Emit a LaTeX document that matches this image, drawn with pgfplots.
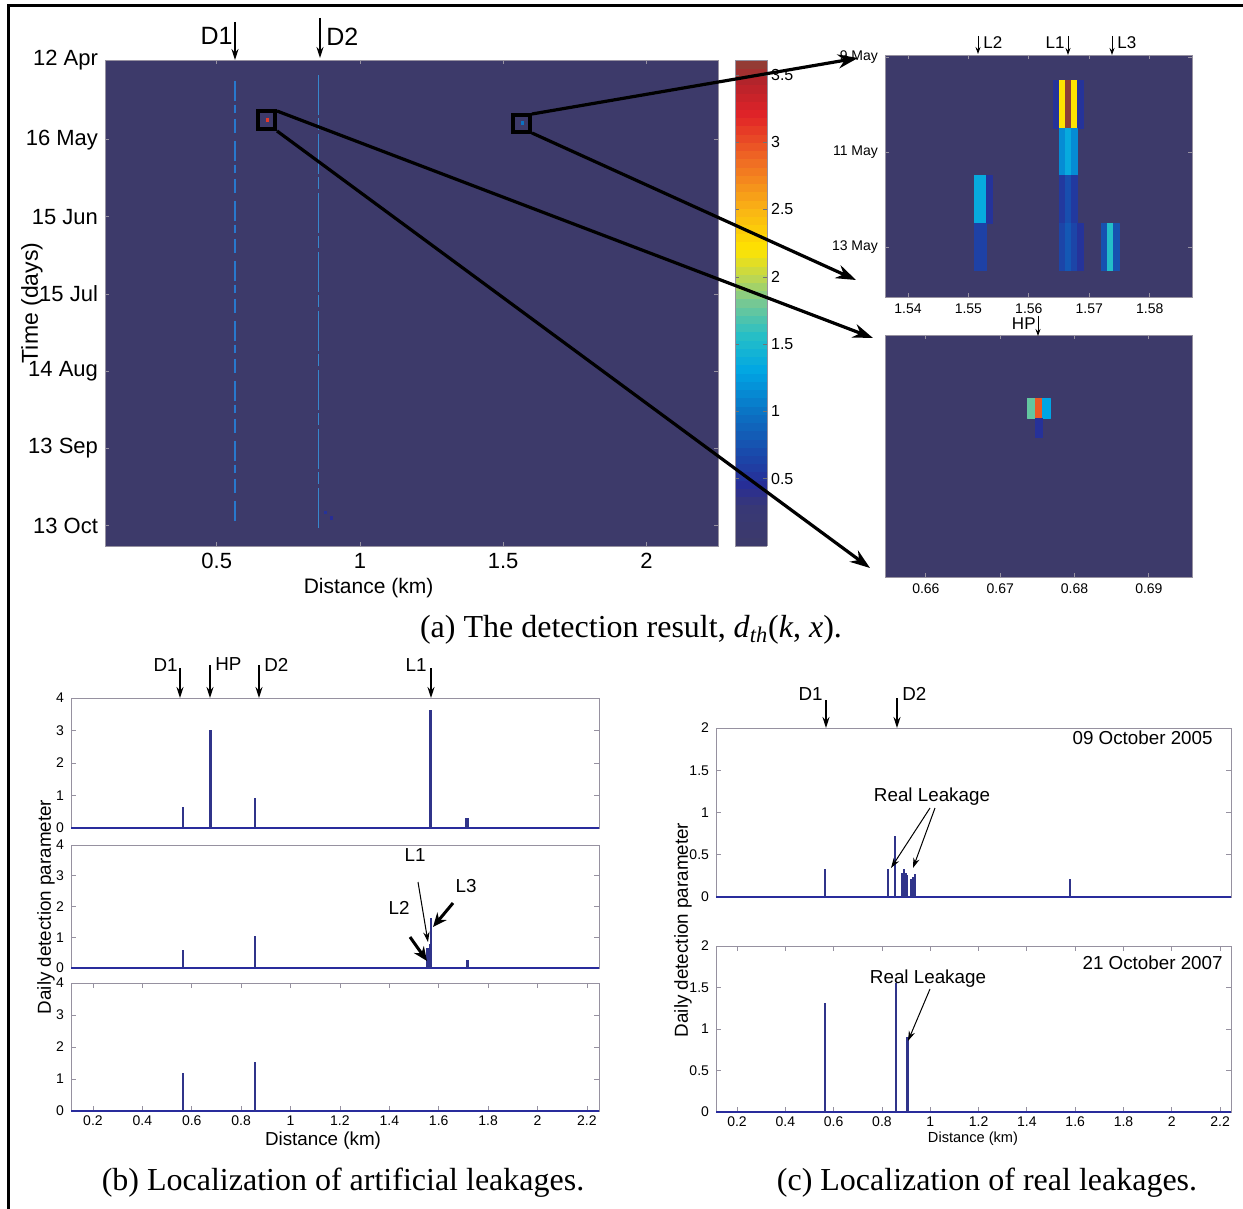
\documentclass[border=0pt]{standalone}
\usepackage{fontspec}
\setmainfont{Liberation Serif}
\setsansfont{Liberation Sans}
\usepackage{pgfplots}
\pgfplotsset{compat=1.18}
\usepgfplotslibrary{patchplots}
\usetikzlibrary{arrows.meta}

\definecolor{bgc}{RGB}{61,58,106}
\definecolor{spk}{RGB}{48,52,138}
\definecolor{axc}{RGB}{150,145,160}
\definecolor{strA}{RGB}{40,120,205}
\definecolor{strB}{RGB}{55,135,205}

\pgfplotsset{
 colormap={det}{rgb255(0pt)=(61,58,106); rgb255(30pt)=(56,56,118); rgb255(45pt)=(40,45,150); rgb255(70pt)=(25,75,172); rgb255(100pt)=(10,115,196); rgb255(130pt)=(0,165,228); rgb255(155pt)=(35,190,200); rgb255(180pt)=(115,200,150); rgb255(200pt)=(190,215,80); rgb255(220pt)=(255,228,0); rgb255(250pt)=(250,180,20); rgb255(285pt)=(240,110,35); rgb255(320pt)=(225,35,40); rgb255(345pt)=(180,35,42); rgb255(361pt)=(140,65,55)},
 /pgf/number format/assume math mode=true,
 every axis/.append style={font=\sffamily},
 heat/.style={scale only axis, anchor=north west, axis background/.style={fill=bgc},
   axis line style={draw=axc, line width=0.4pt}, tick align=inside, major tick length=2pt,
   tick style={draw=axc, line width=0.4pt}, colormap name=det, point meta min=0, point meta max=3.61},
 spikeax/.style={scale only axis, anchor=north west, axis line style={draw=axc, line width=0.5pt},
   tick align=inside, major tick length=2.5pt, tick style={draw=axc, line width=0.4pt},
   ticklabel style={font=\sffamily\fontsize{7}{8}\selectfont}},
 spk/.style={ycomb, draw=spk, line width=1.2pt},
 base/.style={draw=spk!85!blue, line width=0.9pt},
}

\begin{document}
\begin{tikzpicture}
\useasboundingbox (0,0) rectangle (621.5pt,-604.5pt);

% ---------------- (a) main heat map ----------------
\begin{axis}[heat,
 at={(52.5pt,-30pt)}, width=306.5pt, height=243pt,
 xmin=0.11, xmax=2.25, ymin=0, ymax=189, y dir=reverse,
 xtick={0.5,1,1.5,2}, ytick={0,31,61,91,121,151,181},
 yticklabels={12 Apr,16 May,15 Jun,15 Jul,14 Aug,13 Sep,13 Oct},
 ticklabel style={font=\sffamily\fontsize{11}{12}\selectfont},
 xlabel={Distance (km)}, ylabel={Time (days)},
 xlabel style={font=\sffamily\fontsize{10.5}{12}\selectfont, at={(axis description cs:0.43,-0.0864)}, anchor=center},
 ylabel style={font=\sffamily\fontsize{11.5}{12}\selectfont, at={(axis description cs:-0.119,0.5)}, anchor=center},
 colorbar sampled,
 colorbar style={at={([xshift=7pt]parent axis.north east)}, anchor=north west, width=16pt, samples=60,
   ytick={0.5,1,1.5,2,2.5,3,3.5}, yticklabel pos=right, ytick pos=both, tick align=inside, major tick length=2pt,
   ticklabel style={font=\sffamily\fontsize{8}{9}\selectfont}, yticklabel style={xshift=-1.5pt},
   axis line style={draw=axc}, tick style={draw=black!55}},
]
\addplot[draw=strA, line width=0.9pt, dash pattern=on 10pt off 2pt on 4pt off 3pt on 7pt off 4pt] coordinates {(0.565,8) (0.565,180)};
\addplot[draw=strB, line width=0.8pt, dash pattern=on 20pt off 1.5pt on 6pt off 2pt] coordinates {(0.855,6) (0.855,183)};
\addplot[scatter, only marks, mark=square*, mark size=0.6pt, point meta=explicit,
  scatter/use mapped color={draw=mapped color, fill=mapped color}]
  coordinates {(0.676,23.3) [3.1] (1.567,24.5) [1.0] (0.88,176) [0.5] (0.9,178) [0.45]};
\draw[black, line width=2pt] (axis cs:0.6437,19.8) rectangle (axis cs:0.703,26.8);
\draw[black, line width=2pt] (axis cs:1.533,21.4) rectangle (axis cs:1.592,27.95);
\end{axis}

% ---------------- inset 1 (L1, L2, L3) ----------------
\begin{axis}[heat,
 at={(442.5pt,-27.5pt)}, width=153.5pt, height=121pt,
 xmin=1.5362, xmax=1.587, ymin=-0.04, ymax=5.05, y dir=reverse,
 xtick={1.54,1.55,1.56,1.57,1.58}, ytick={0,2,4}, yticklabels={9 May,11 May,13 May},
 ticklabel style={font=\sffamily\fontsize{7}{8}\selectfont},
]
\addplot[patch, patch type=rectangle, shader=flat, point meta=explicit] coordinates {
(1.564,0.5)[0.5] (1.565,0.5)[0.5] (1.565,1.5)[0.5] (1.564,1.5)[0.5]
(1.565,0.5)[2.2] (1.566,0.5)[2.2] (1.566,1.5)[2.2] (1.565,1.5)[2.2]
(1.566,0.5)[3.6] (1.567,0.5)[3.6] (1.567,1.5)[3.6] (1.566,1.5)[3.6]
(1.567,0.5)[2.2] (1.568,0.5)[2.2] (1.568,1.5)[2.2] (1.567,1.5)[2.2]
(1.568,0.5)[0.5] (1.569,0.5)[0.5] (1.569,1.5)[0.5] (1.568,1.5)[0.5]
(1.565,1.5)[1.15] (1.566,1.5)[1.15] (1.566,2.5)[1.15] (1.565,2.5)[1.15]
(1.566,1.5)[1.35] (1.567,1.5)[1.35] (1.567,2.5)[1.35] (1.566,2.5)[1.35]
(1.567,1.5)[1.15] (1.568,1.5)[1.15] (1.568,2.5)[1.15] (1.567,2.5)[1.15]
(1.551,2.5)[1.35] (1.552,2.5)[1.35] (1.552,3.5)[1.35] (1.551,3.5)[1.35]
(1.552,2.5)[1.35] (1.553,2.5)[1.35] (1.553,3.5)[1.35] (1.552,3.5)[1.35]
(1.553,2.5)[0.5] (1.554,2.5)[0.5] (1.554,3.5)[0.5] (1.553,3.5)[0.5]
(1.565,2.5)[0.55] (1.566,2.5)[0.55] (1.566,3.5)[0.55] (1.565,3.5)[0.55]
(1.566,2.5)[0.72] (1.567,2.5)[0.72] (1.567,3.5)[0.72] (1.566,3.5)[0.72]
(1.567,2.5)[0.55] (1.568,2.5)[0.55] (1.568,3.5)[0.55] (1.567,3.5)[0.55]
(1.551,3.5)[0.62] (1.552,3.5)[0.62] (1.552,4.5)[0.62] (1.551,4.5)[0.62]
(1.552,3.5)[0.62] (1.553,3.5)[0.62] (1.553,4.5)[0.62] (1.552,4.5)[0.62]
(1.565,3.5)[0.65] (1.566,3.5)[0.65] (1.566,4.5)[0.65] (1.565,4.5)[0.65]
(1.566,3.5)[0.8] (1.567,3.5)[0.8] (1.567,4.5)[0.8] (1.566,4.5)[0.8]
(1.567,3.5)[0.65] (1.568,3.5)[0.65] (1.568,4.5)[0.65] (1.567,4.5)[0.65]
(1.568,3.5)[0.5] (1.569,3.5)[0.5] (1.569,4.5)[0.5] (1.568,4.5)[0.5]
(1.572,3.5)[0.75] (1.573,3.5)[0.75] (1.573,4.5)[0.75] (1.572,4.5)[0.75]
(1.573,3.5)[1.55] (1.574,3.5)[1.55] (1.574,4.5)[1.55] (1.573,4.5)[1.55]
(1.574,3.5)[0.75] (1.575,3.5)[0.75] (1.575,4.5)[0.75] (1.574,4.5)[0.75]
};
\end{axis}

% ---------------- inset 2 (HP) ----------------
\begin{axis}[heat,
 at={(442.5pt,-167.5pt)}, width=153.5pt, height=121pt,
 xmin=0.6545, xmax=0.6958, ymin=0, ymax=12.34, y dir=reverse,
 xtick={0.66,0.67,0.68,0.69}, ytick=\empty,
 ticklabel style={font=\sffamily\fontsize{7}{8}\selectfont},
]
\addplot[patch, patch type=rectangle, shader=flat, point meta=explicit] coordinates {
(0.6737,3.24)[1.75] (0.6747,3.24)[1.75] (0.6747,4.24)[1.75] (0.6737,4.24)[1.75]
(0.6747,3.24)[2.95] (0.6757,3.24)[2.95] (0.6757,4.24)[2.95] (0.6747,4.24)[2.95]
(0.6757,3.24)[1.3] (0.6767,3.24)[1.3] (0.6767,4.24)[1.3] (0.6757,4.24)[1.3]
(0.6747,4.24)[0.48] (0.6757,4.24)[0.48] (0.6757,5.24)[0.48] (0.6747,5.24)[0.48]
};
\end{axis}

% ---------------- (b) artificial leakages ----------------
\begin{axis}[spikeax, at={(35.5pt,-349pt)}, width=264pt, height=65pt,
 xmin=0.111, xmax=2.249, ymin=0, ymax=4, xtick=\empty, ytick={0,1,2,3,4}]
\addplot[base] coordinates {(0.111,0) (2.249,0)};
\addplot[spk] coordinates {(0.565,0.65) (0.676,3.02) (0.857,0.93) (1.567,3.63) (1.713,0.30) (1.717,0.32)};
\end{axis}
\begin{axis}[spikeax, at={(35.5pt,-422.5pt)}, width=264pt, height=61.5pt,
 xmin=0.111, xmax=2.249, ymin=0, ymax=4, xtick=\empty, ytick={0,1,2,3,4}]
\addplot[base] coordinates {(0.111,0) (2.249,0)};
\addplot[spk] coordinates {(0.565,0.6) (0.857,1.05) (1.555,0.66) (1.564,0.78) (1.569,1.62) (1.716,0.25)};
\end{axis}
\begin{axis}[spikeax, at={(35.5pt,-491.5pt)}, width=264pt, height=64pt,
 xmin=0.111, xmax=2.249, ymin=0, ymax=4, ytick={0,1,2,3,4},
 xtick={0.2,0.4,0.6,0.8,1,1.2,1.4,1.6,1.8,2,2.2},
 xticklabel style={yshift=1pt}]
\addplot[base] coordinates {(0.111,0) (2.249,0)};
\addplot[spk] coordinates {(0.565,1.2) (0.857,1.53)};
\end{axis}

% ---------------- (c) real leakages ----------------
\begin{axis}[spikeax, at={(358pt,-364pt)}, width=257.5pt, height=84.5pt,
 xmin=0.113, xmax=2.245, ymin=0, ymax=2, xtick=\empty, ytick={0,0.5,1,1.5,2}]
\addplot[base] coordinates {(0.113,0) (2.245,0)};
\addplot[spk, line width=1pt] coordinates {(0.565,0.33) (0.826,0.33) (0.855,0.72) (0.883,0.28) (0.891,0.33) (0.898,0.28) (0.905,0.26) (0.919,0.21) (0.927,0.24) (0.936,0.27) (1.58,0.21)};
\end{axis}
\begin{axis}[spikeax, at={(358pt,-473pt)}, width=257.5pt, height=83pt,
 xmin=0.113, xmax=2.245, ymin=0, ymax=2, ytick={0,0.5,1,1.5,2},
 xtick={0.2,0.4,0.6,0.8,1,1.2,1.4,1.6,1.8,2,2.2},
 xticklabel style={yshift=1pt}]
\addplot[base] coordinates {(0.113,0) (2.245,0)};
\addplot[spk] coordinates {(0.565,1.31) (0.857,1.56) (0.905,0.9)};
\end{axis}

% ---------------- annotations (pixel frame) ----------------
\begin{scope}[x=0.5pt, y=-0.5pt, font=\sffamily]
 \tikzset{
  big/.style={line width=1.6pt, -{Stealth[length=10pt,width=7pt]}},
  mid/.style={line width=0.8pt, -{Stealth[length=5.5pt,width=3.5pt]}},
  sml/.style={line width=0.5pt, -{Stealth[length=3.5pt,width=2.5pt]}},
  thin/.style={line width=0.5pt, -{Stealth[length=5pt,width=3.2pt]}},
  fat/.style={line width=1.5pt, -{Stealth[length=7pt,width=6pt]}},
 }
 % outer frame
 \draw[line width=1.5pt] (8,1209) -- (8,6) -- (1243,6);
 % zoom connectors
 \draw[big] (277,111) -- (873,338);
 \draw[big] (277,131) -- (870,568);
 \draw[big] (532,114) -- (858,58);
 \draw[big] (532,133) -- (856,280);
 % D1 / D2 on the heat map
 \draw[mid] (235,22) -- (235,60);
 \node[anchor=east, inner sep=0pt, font=\sffamily\fontsize{12.5}{13}\selectfont] at (233,36) {D1};
 \draw[mid] (320,18) -- (320,58);
 \node[anchor=west, inner sep=0pt, font=\sffamily\fontsize{12.5}{13}\selectfont] at (326,37) {D2};
 % inset markers
 \begin{scope}[font=\sffamily\fontsize{8.5}{9}\selectfont]
 \draw[sml] (978,36) -- (978,54);
 \node[anchor=west, inner sep=0pt] at (983,43) {L2};
 \draw[sml] (1068,36) -- (1068,55);
 \node[anchor=east, inner sep=0pt] at (1065,43) {L1};
 \draw[sml] (1112,36) -- (1112,55);
 \node[anchor=west, inner sep=0pt] at (1117,43) {L3};
 \draw[sml] (1038,316) -- (1038,336);
 \node[anchor=east, inner sep=0pt] at (1036,324) {HP};
 \end{scope}
 % (b) markers
 \begin{scope}[font=\sffamily\fontsize{9.4}{10}\selectfont]
 \draw[mid] (180,668) -- (180,698);
 \node[anchor=east, inner sep=0pt] at (178,665) {D1};
 \draw[mid] (210,665) -- (210,698);
 \node[anchor=west, inner sep=0pt] at (215,664) {HP};
 \draw[mid] (259,665) -- (259,698);
 \node[anchor=west, inner sep=0pt] at (264,665) {D2};
 \draw[mid] (431,668) -- (431,698);
 \node[anchor=east, inner sep=0pt] at (427,665) {L1};
 \node at (415,855) {L1};
 \draw[thin] (418,882) -- (428,942);
 \node at (399,908) {L2};
 \draw[fat] (410,937) -- (427,961);
 \node at (466,886) {L3};
 \draw[fat] (453,903) -- (433,927);
 \node[rotate=90] at (46,907) {Daily detection parameter};
 \node at (323,1141) {Distance (km)};
 % (c) markers
 \draw[mid] (826,700) -- (826,728);
 \node[anchor=east, inner sep=0pt] at (823,694) {D1};
 \draw[mid] (897,698) -- (897,728);
 \node[anchor=west, inner sep=0pt] at (902,694) {D2};
 \node[anchor=east, inner sep=0pt] at (1213,738) {09 October 2005};
 \node[anchor=east, inner sep=0pt] at (1223,963) {21 October 2007};
 \node at (932,797) {Real Leakage};
 \draw[thin] (930,808) -- (891,868);
 \draw[thin] (935,808) -- (913,868);
 \node at (928,979) {Real Leakage};
 \draw[thin] (930,989) -- (908,1041);
 \node[rotate=90] at (683,930) {Daily detection parameter};
 \end{scope}
 \node[font=\sffamily\fontsize{7.3}{8}\selectfont] at (973,1139) {Distance (km)};
 % captions
 \begin{scope}[font=\rmfamily\fontsize{16}{18}\selectfont]
 \node at (631,630) {(a) The detection result, \textit{d}\textsubscript{\textit{th}}(\textit{k}, \textit{x}).};
 \node at (343,1183) {(b) Localization of artificial leakages.};
 \node at (987,1183) {(c) Localization of real leakages.};
 \end{scope}
\end{scope}
\end{tikzpicture}
\end{document}
